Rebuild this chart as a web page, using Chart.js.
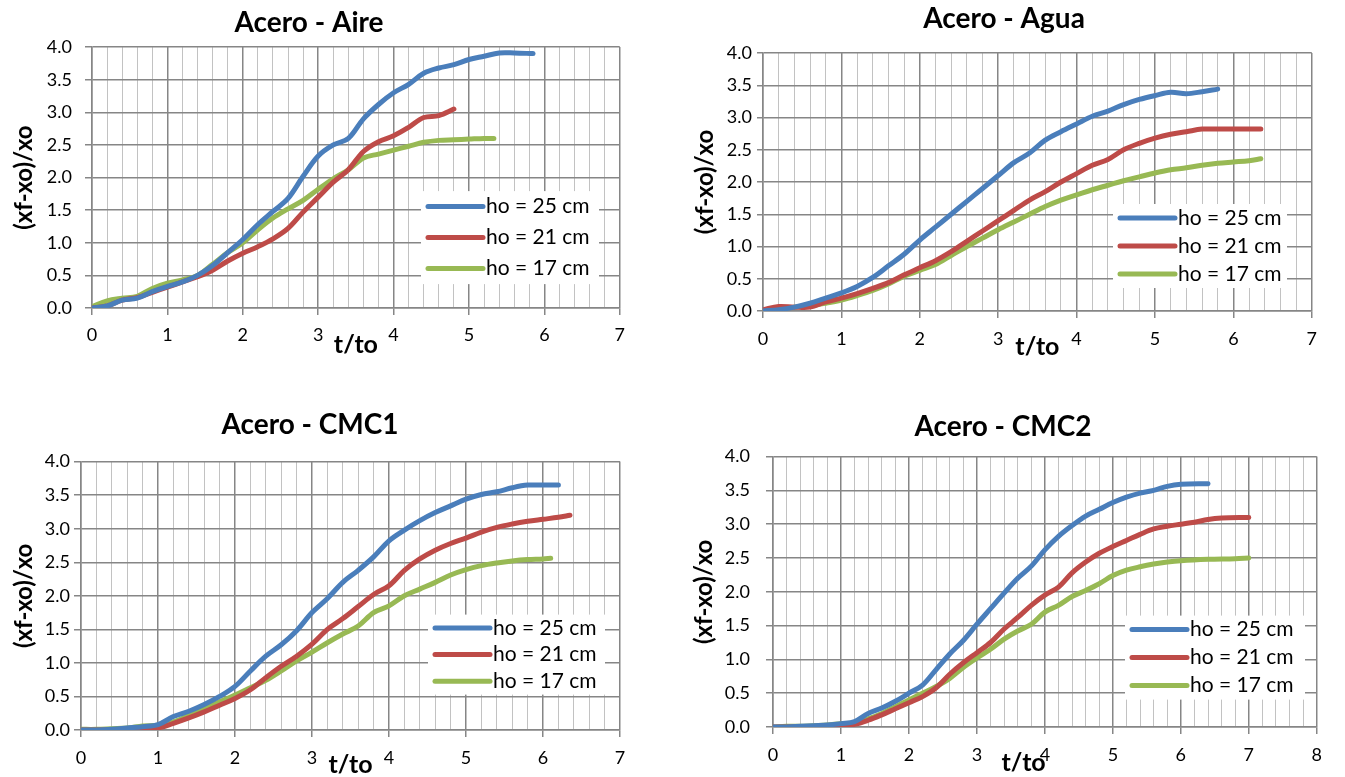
<!DOCTYPE html>
<html>
<head>
<meta charset="utf-8">
<title>Acero - desplazamiento relativo</title>
<script src="https://cdn.jsdelivr.net/npm/chart.js@4.4.0/dist/chart.umd.min.js"></script>
<style>
  body { margin: 0; background: #fff; }
  #page { position: relative; width: 1345px; height: 777px; overflow: hidden; }
  canvas { position: absolute; }
</style>
</head>
<body>
<div id="page">
  <canvas id="chartAire" width="644" height="380" style="left:-10px;top:0px"></canvas>
  <canvas id="chartAgua" width="634" height="380" style="left:693px;top:0px"></canvas>
  <canvas id="chartCmc1" width="656" height="382" style="left:0px;top:395px"></canvas>
  <canvas id="chartCmc2" width="652" height="382" style="left:680px;top:395px"></canvas>
</div>
<script>
// series names and colours (same in all four panels)
const seriesLabels = ['ho = 25 cm', 'ho = 21 cm', 'ho = 17 cm'];
const seriesColors = ['#4A7EBB', '#BE4B48', '#98B954'];

// Acero - Aire
const aireT25 = [0, 0.2, 0.4, 0.6, 0.8, 1, 1.2, 1.4, 1.6, 1.8, 2, 2.2, 2.4, 2.6, 2.8, 3, 3.2, 3.4, 3.6, 3.8, 4, 4.2, 4.4, 4.6, 4.8, 5, 5.2, 5.4, 5.6, 5.85];
const aireH25 = [0, 0.03, 0.12, 0.15, 0.25, 0.33, 0.4, 0.5, 0.65, 0.85, 1.05, 1.28, 1.48, 1.68, 2.02, 2.33, 2.5, 2.6, 2.9, 3.12, 3.3, 3.43, 3.6, 3.68, 3.73, 3.81, 3.86, 3.91, 3.91, 3.9];
const aireT21 = [0, 0.2, 0.4, 0.6, 0.8, 1, 1.2, 1.4, 1.6, 1.8, 2, 2.2, 2.4, 2.6, 2.8, 3, 3.2, 3.4, 3.6, 3.8, 4, 4.2, 4.4, 4.6, 4.8];
const aireH21 = [0, 0.03, 0.12, 0.16, 0.24, 0.32, 0.4, 0.48, 0.58, 0.72, 0.84, 0.94, 1.06, 1.22, 1.47, 1.7, 1.93, 2.12, 2.4, 2.55, 2.64, 2.77, 2.92, 2.95, 3.05];
const aireT17 = [0, 0.2, 0.4, 0.6, 0.8, 1, 1.2, 1.4, 1.6, 1.8, 2, 2.2, 2.4, 2.6, 2.8, 3, 3.2, 3.4, 3.6, 3.8, 4, 4.2, 4.4, 4.6, 4.8, 5, 5.2, 5.33];
const aireH17 = [0.02, 0.11, 0.15, 0.18, 0.3, 0.38, 0.43, 0.5, 0.67, 0.85, 1.0, 1.2, 1.38, 1.52, 1.65, 1.82, 1.98, 2.12, 2.3, 2.36, 2.42, 2.48, 2.54, 2.57, 2.58, 2.59, 2.6, 2.6];

// Acero - Agua
const aguaT25 = [0, 0.2, 0.4, 0.6, 0.8, 1, 1.2, 1.4, 1.6, 1.8, 2, 2.2, 2.4, 2.6, 2.8, 3, 3.2, 3.4, 3.6, 3.8, 4, 4.2, 4.4, 4.6, 4.8, 5, 5.2, 5.4, 5.6, 5.8];
const aguaH25 = [0, 0.02, 0.06, 0.12, 0.2, 0.28, 0.38, 0.52, 0.7, 0.88, 1.1, 1.3, 1.5, 1.7, 1.9, 2.1, 2.3, 2.45, 2.65, 2.78, 2.9, 3.02, 3.1, 3.2, 3.28, 3.34, 3.39, 3.37, 3.4, 3.44];
const aguaT21 = [0, 0.2, 0.4, 0.6, 0.8, 1, 1.2, 1.4, 1.6, 1.8, 2, 2.2, 2.4, 2.6, 2.8, 3, 3.2, 3.4, 3.6, 3.8, 4, 4.2, 4.4, 4.6, 4.8, 5, 5.2, 5.4, 5.6, 5.8, 6, 6.2, 6.35];
const aguaH21 = [0.02, 0.07, 0.06, 0.06, 0.14, 0.2, 0.27, 0.35, 0.44, 0.56, 0.67, 0.78, 0.92, 1.08, 1.24, 1.4, 1.56, 1.72, 1.85, 2.0, 2.13, 2.26, 2.35, 2.5, 2.6, 2.68, 2.74, 2.78, 2.82, 2.82, 2.82, 2.82, 2.82];
const aguaT17 = [0, 0.2, 0.4, 0.6, 0.8, 1, 1.2, 1.4, 1.6, 1.8, 2, 2.2, 2.4, 2.6, 2.8, 3, 3.2, 3.4, 3.6, 3.8, 4, 4.2, 4.4, 4.6, 4.8, 5, 5.2, 5.4, 5.6, 5.8, 6, 6.2, 6.35];
const aguaH17 = [0, 0.04, 0.06, 0.08, 0.12, 0.17, 0.24, 0.32, 0.42, 0.54, 0.63, 0.72, 0.86, 1.0, 1.13, 1.26, 1.38, 1.5, 1.62, 1.72, 1.8, 1.88, 1.95, 2.02, 2.08, 2.14, 2.19, 2.22, 2.26, 2.29, 2.31, 2.33, 2.36];

// Acero - CMC1
const cmc1T25 = [0, 0.2, 0.4, 0.6, 0.8, 1, 1.2, 1.4, 1.6, 1.8, 2, 2.2, 2.4, 2.6, 2.8, 3, 3.2, 3.4, 3.6, 3.8, 4, 4.2, 4.4, 4.6, 4.8, 5, 5.2, 5.4, 5.6, 5.8, 6, 6.2];
const cmc1H25 = [0, 0, 0.01, 0.03, 0.05, 0.08, 0.2, 0.28, 0.38, 0.5, 0.65, 0.88, 1.1, 1.27, 1.48, 1.75, 1.96, 2.2, 2.38, 2.58, 2.82, 2.98, 3.12, 3.24, 3.34, 3.44, 3.51, 3.55, 3.61, 3.65, 3.65, 3.65];
const cmc1T21 = [0, 0.2, 0.4, 0.6, 0.8, 1, 1.2, 1.4, 1.6, 1.8, 2, 2.2, 2.4, 2.6, 2.8, 3, 3.2, 3.4, 3.6, 3.8, 4, 4.2, 4.4, 4.6, 4.8, 5, 5.2, 5.4, 5.6, 5.8, 6, 6.2, 6.35];
const cmc1H21 = [0, 0, 0, 0.01, 0.02, 0.03, 0.1, 0.18, 0.27, 0.37, 0.47, 0.6, 0.78, 0.95, 1.1, 1.28, 1.5, 1.66, 1.84, 2.02, 2.15, 2.38, 2.55, 2.68, 2.78, 2.86, 2.95, 3.02, 3.07, 3.11, 3.14, 3.17, 3.2];
const cmc1T17 = [0, 0.2, 0.4, 0.6, 0.8, 1, 1.2, 1.4, 1.6, 1.8, 2, 2.2, 2.4, 2.6, 2.8, 3, 3.2, 3.4, 3.6, 3.8, 4, 4.2, 4.4, 4.6, 4.8, 5, 5.2, 5.4, 5.6, 5.8, 6, 6.1];
const cmc1H17 = [0.01, 0.01, 0.02, 0.03, 0.06, 0.07, 0.12, 0.22, 0.32, 0.42, 0.52, 0.63, 0.74, 0.88, 1.03, 1.16, 1.3, 1.43, 1.55, 1.75, 1.85, 2.0, 2.1, 2.2, 2.31, 2.39, 2.45, 2.49, 2.52, 2.54, 2.55, 2.56];

// Acero - CMC2
const cmc2T25 = [0, 0.2, 0.4, 0.6, 0.8, 1, 1.2, 1.4, 1.6, 1.8, 2, 2.2, 2.4, 2.6, 2.8, 3, 3.2, 3.4, 3.6, 3.8, 4, 4.2, 4.4, 4.6, 4.8, 5, 5.2, 5.4, 5.6, 5.8, 6, 6.4];
const cmc2H25 = [0, 0, 0.01, 0.02, 0.03, 0.05, 0.08, 0.2, 0.28, 0.38, 0.5, 0.62, 0.85, 1.08, 1.28, 1.52, 1.75, 1.98, 2.2, 2.38, 2.62, 2.82, 2.98, 3.12, 3.22, 3.32, 3.4, 3.46, 3.5, 3.56, 3.59, 3.6];
const cmc2T21 = [0, 0.2, 0.4, 0.6, 0.8, 1, 1.2, 1.4, 1.6, 1.8, 2, 2.2, 2.4, 2.6, 2.8, 3, 3.2, 3.4, 3.6, 3.8, 4, 4.2, 4.4, 4.6, 4.8, 5, 5.2, 5.4, 5.6, 5.8, 6, 6.2, 6.4, 6.6, 7];
const cmc2H21 = [0, 0, 0, 0, 0.01, 0.02, 0.04, 0.1, 0.18, 0.27, 0.36, 0.45, 0.58, 0.78, 0.95, 1.1, 1.25, 1.45, 1.62, 1.8, 1.95, 2.07, 2.28, 2.44, 2.57, 2.67, 2.76, 2.85, 2.93, 2.97, 3.0, 3.03, 3.07, 3.09, 3.1];
const cmc2T17 = [0, 0.2, 0.4, 0.6, 0.8, 1, 1.2, 1.4, 1.6, 1.8, 2, 2.2, 2.4, 2.6, 2.8, 3, 3.2, 3.4, 3.6, 3.8, 4, 4.2, 4.4, 4.6, 4.8, 5, 5.2, 5.4, 5.6, 5.8, 6, 6.4, 6.8, 7];
const cmc2H17 = [0, 0.01, 0.01, 0.02, 0.03, 0.05, 0.06, 0.12, 0.2, 0.3, 0.4, 0.5, 0.6, 0.72, 0.88, 1.02, 1.15, 1.3, 1.42, 1.52, 1.7, 1.8, 1.93, 2.02, 2.12, 2.24, 2.32, 2.37, 2.41, 2.44, 2.46, 2.48, 2.49, 2.5];

Chart.defaults.font.family = 'Lato, "Liberation Sans", sans-serif';
Chart.defaults.color = '#000';

const majorGray = '#868686';
const minorGray = '#c2c2c2';
const isMajor = v => Math.abs(v - Math.round(v)) < 1e-6;

// white legend box drawn inside the plot area, like the Excel original
const boxLegend = {
    id: 'boxLegend',
    afterDatasetsDraw(chart, args, opts) {
        const { ctx, chartArea } = chart;
        const x = chartArea.left + opts.x;
        const y = chartArea.top + opts.y;
        const n = chart.data.datasets.length;
        ctx.save();
        ctx.fillStyle = '#fff';
        ctx.fillRect(x, y, opts.w, opts.h);
        ctx.font = '21px ' + Chart.defaults.font.family;
        ctx.textBaseline = 'middle';
        chart.data.datasets.forEach((ds, i) => {
            const cy = y + opts.h * (i + 0.5) / n;
            ctx.strokeStyle = ds.borderColor;
            ctx.lineWidth = 5;
            ctx.lineCap = 'round';
            ctx.beginPath();
            ctx.moveTo(x + 7, cy);
            ctx.lineTo(x + 62, cy);
            ctx.stroke();
            ctx.fillStyle = '#000';
            ctx.fillText(ds.label, x + 65, cy);
        });
        ctx.restore();
    }
};

function makeChart(id, title, xMax, series, L) {
    const ctx = document.getElementById(id).getContext('2d');
    return new Chart(ctx, {
        type: 'line',
        data: {
            datasets: series.map((s, k) => ({
                label: seriesLabels[k],
                data: s[0].map((t, i) => ({ x: t, y: s[1][i] })),
                borderColor: seriesColors[k],
                backgroundColor: seriesColors[k],
                borderWidth: 5,
                borderCapStyle: 'round',
                borderJoinStyle: 'round',
                pointRadius: 0,
                tension: 0.35,
                fill: false
            }))
        },
        options: {
            responsive: false,
            animation: false,
            devicePixelRatio: 1,
            layout: { padding: { left: 0, top: 0, right: L.padRight, bottom: 0 } },
            plugins: {
                legend: { display: false },
                tooltip: { enabled: false },
                title: {
                    display: true,
                    text: title,
                    color: '#000',
                    font: { size: 28, weight: 'bold' },
                    padding: { top: L.titleTop, bottom: L.titleBottom }
                },
                boxLegend: L.legend
            },
            scales: {
                x: {
                    type: 'linear',
                    min: 0,
                    max: xMax,
                    afterFit: scale => { scale.height = L.xHeight; },
                    border: { color: majorGray, width: 1.5 },
                    grid: {
                        color: c => (c.tick && isMajor(c.tick.value)) ? majorGray : minorGray,
                        lineWidth: c => (c.tick && isMajor(c.tick.value)) ? 1.5 : 1,
                        tickLength: 7,
                        tickColor: c => (c.tick && isMajor(c.tick.value)) ? majorGray : 'rgba(0,0,0,0)'
                    },
                    ticks: {
                        stepSize: 0.2,
                        autoSkip: false,
                        maxRotation: 0,
                        padding: L.xTickPad,
                        font: { size: 18 },
                        callback: v => isMajor(v) ? String(Math.round(v)) : ''
                    },
                    title: {
                        display: true,
                        text: L.xTitle,
                        font: { size: 25, weight: 'bold' },
                        padding: { top: 0, bottom: L.xTitleBottom }
                    }
                },
                y: {
                    min: 0,
                    max: 4,
                    afterFit: scale => { scale.width = L.yWidth; },
                    border: { color: majorGray, width: 1.5 },
                    grid: { color: majorGray, lineWidth: 1.5, tickLength: L.yTickLen },
                    ticks: {
                        stepSize: 0.5,
                        padding: L.yTickPad,
                        font: { size: 18 },
                        callback: v => v.toFixed(1)
                    },
                    title: {
                        display: true,
                        text: '(xf-xo)/xo',
                        font: { size: 24, weight: 'bold' },
                        padding: { top: L.yTitleTop, bottom: 0 }
                    }
                }
            }
        },
        plugins: [boxLegend]
    });
}

makeChart('chartAire', 'Acero - Aire', 7,
    [[aireT25, aireH25], [aireT21, aireH21], [aireT17, aireH17]],
    { padRight: 6, yWidth: 102, xHeight: 72, titleTop: 6, titleBottom: 7.5,
      xTickPad: 9, xTitle: 't/to', xTitleBottom: 20, yTickLen: 7, yTickPad: 13, yTitleTop: 20,
      legend: { x: 329, y: 144, w: 178, h: 93 } });

makeChart('chartAgua', 'Acero - Agua', 7,
    [[aguaT25, aguaH25], [aguaT21, aguaH21], [aguaT17, aguaH17]],
    { padRight: 12, yWidth: 70, xHeight: 69, titleTop: 1.7, titleBottom: 17.7,
      xTickPad: 10, xTitle: 't/to', xTitleBottom: 18, yTickLen: 6, yTickPad: 5, yTitleTop: -2.5,
      legend: { x: 350, y: 151, w: 174, h: 84 } });

makeChart('chartCmc1', 'Acero - CMC1', 7,
    [[cmc1T25, cmc1H25], [cmc1T21, cmc1H21], [cmc1T17, cmc1H17]],
    { padRight: 36, yWidth: 81, xHeight: 47, titleTop: 13, titleBottom: 20,
      xTickPad: 10, xTitle: 't/to', xTitleBottom: -3, yTickLen: 7, yTickPad: 4, yTitleTop: 10,
      legend: { x: 347, y: 153, w: 177, h: 80 } });

// the x title sits a little left of centre in this panel
makeChart('chartCmc2', 'Acero - CMC2', 8,
    [[cmc2T25, cmc2H25], [cmc2T21, cmc2H21], [cmc2T17, cmc2H17]],
    { padRight: 6, yWidth: 93, xHeight: 50, titleTop: 15, titleBottom: 13,
      xTickPad: 10, xTitle: 't/to\u00a0\u00a0\u00a0\u00a0\u00a0\u00a0\u00a0', xTitleBottom: -1, yTickLen: 7, yTickPad: 16, yTitleTop: 10,
      legend: { x: 352, y: 159, w: 180, h: 84 } });
</script>
</body>
</html>
